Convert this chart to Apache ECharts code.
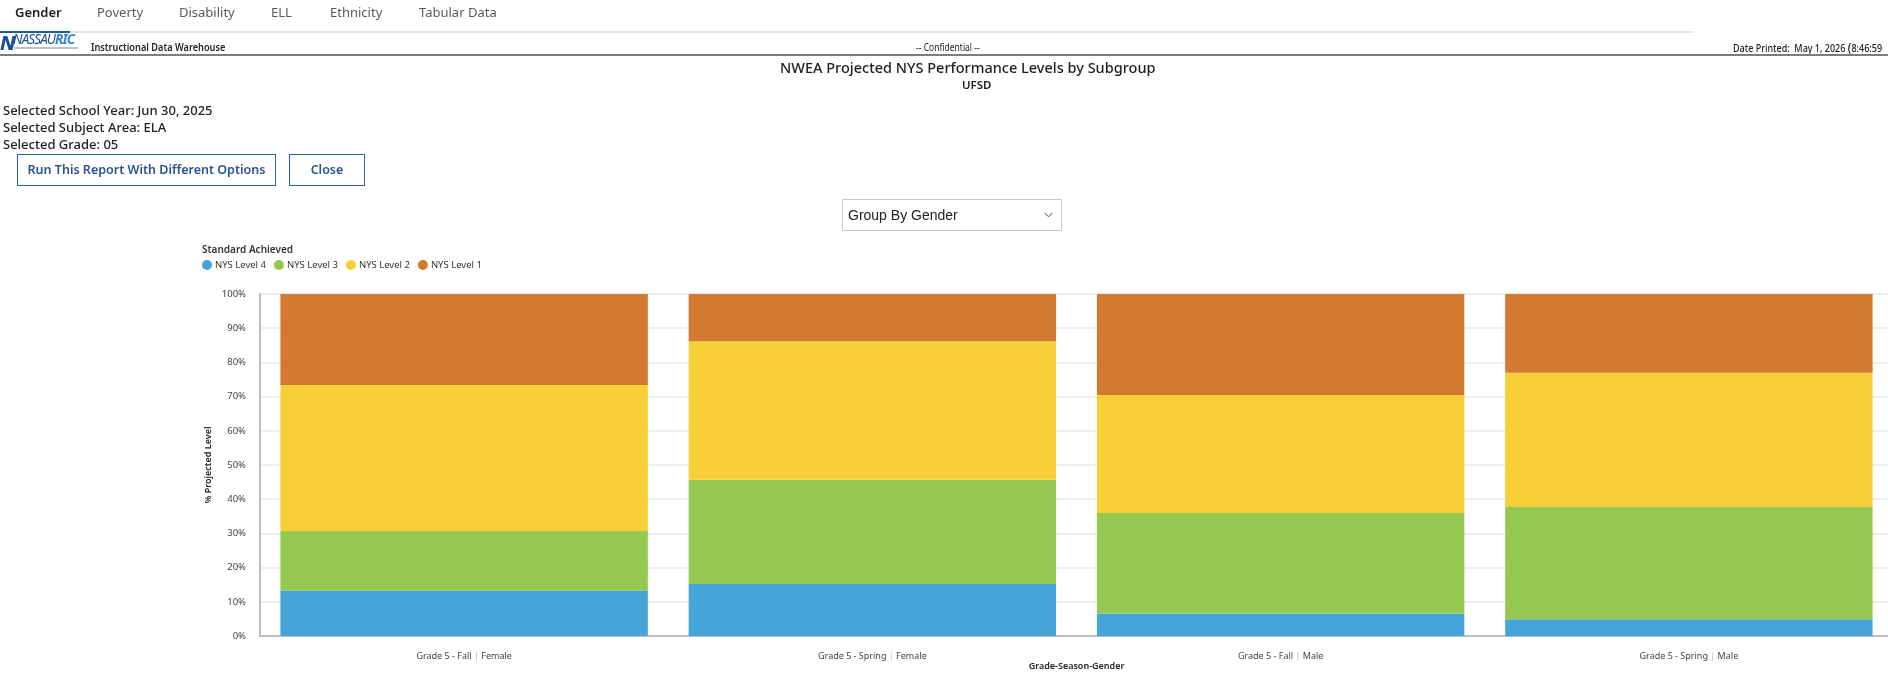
<!DOCTYPE html>
<html>
<head>
<meta charset="utf-8">
<title>NWEA Projected NYS Performance Levels by Subgroup</title>
<script src="https://cdn.jsdelivr.net/npm/echarts@6/dist/echarts.min.js"></script>
<style>
  html, body { margin: 0; padding: 0; background: #fff; }
  body { width: 1888px; height: 679px; overflow: hidden; position: relative;
         font-family: "Noto Sans", Roboto, sans-serif; color: #222; }
  #chart { position: absolute; left: 0; top: 0; width: 1888px; height: 679px; }
  .abs { position: absolute; white-space: nowrap; z-index: 2; }
  .tab { position: absolute; top: 3px; font-size: 13px; color: #5a5a5a; }
  .tab.on { color: #1e1e1e; font-weight: 600; }
  .tabline { position: absolute; top: 31px; height: 2px; background: #e6e6e6; }
  .sel { left: 3px; font-size: 13px; font-weight: 500; color: #222; }
  .btn { top: 154px; height: 30px; border: 1px solid #2d5f9e; color: #2a5490;
         font-size: 12.5px; font-weight: 600; text-align: center; line-height: 30px; }
</style>
</head>
<body>
<div id="chart"></div>

<!-- tabs -->
<div class="tab on" style="left:15px">Gender</div>
<div class="tab" style="left:97px">Poverty</div>
<div class="tab" style="left:179px">Disability</div>
<div class="tab" style="left:271px">ELL</div>
<div class="tab" style="left:330px">Ethnicity</div>
<div class="tab" style="left:419px">Tabular Data</div>
<div class="tabline" style="left:0;width:1694px"></div>
<div class="tabline" style="left:0;width:70px;background:#1f5aa0"></div>

<!-- report header -->
<div class="abs" style="left:0;top:29px;font-size:20px;font-weight:800;color:#1f4f8f;font-style:italic;letter-spacing:-1px">N</div>
<div class="abs" style="left:13px;top:30px;font-size:13.5px;color:#1f4f8f;font-style:italic;letter-spacing:-0.9px">NASSAU<b style="color:#2f86c8">RIC</b></div>
<div class="abs" style="left:14px;top:47px;width:64px;height:2px;background:#b9c3d2"></div>
<div class="abs" style="left:91px;top:40px;font-size:10px;font-weight:600;color:#222;transform:scaleX(0.92);transform-origin:left">Instructional Data Warehouse</div>
<div class="abs" style="left:916px;top:40px;font-size:10px;color:#222;transform:scaleX(0.85);transform-origin:left">-- Confidential --</div>
<div class="abs" style="left:1733px;top:38px;font-size:10px;font-weight:500;color:#222;transform:scaleX(0.9);transform-origin:left">Date Printed:&nbsp; May 1, 2026 <span style="font-size:13px">(</span>8:46:59</div>
<div class="abs" style="left:0;top:54px;width:1888px;height:2px;background:#7d7d7d"></div>

<div class="abs" style="left:780px;top:57px;font-size:14.5px;font-weight:500;color:#1e1e1e">NWEA Projected NYS Performance Levels by Subgroup</div>
<div class="abs" style="left:962px;top:77px;font-size:11.5px;font-weight:600;color:#1e1e1e">UFSD</div>

<div class="abs sel" style="top:101px">Selected School Year: Jun 30, 2025</div>
<div class="abs sel" style="top:118px">Selected Subject Area: ELA</div>
<div class="abs sel" style="top:135px">Selected Grade: 05</div>

<div class="abs btn" style="left:17px;width:257px">Run This Report With Different Options</div>
<div class="abs btn" style="left:289px;width:74px">Close</div>

<div class="abs" style="left:842px;top:199px;width:218px;height:30px;border:1px solid #c8c8c8;font-family:'Liberation Sans',Arial,sans-serif;font-size:14px;line-height:30px;color:#222">
  <span style="margin-left:5px">Group By Gender</span>
  <svg style="position:absolute;right:8px;top:12px" width="9" height="6" viewBox="0 0 9 6"><path d="M0.5 0.8 L4.5 4.8 L8.5 0.8" fill="none" stroke="#444" stroke-width="1"/></svg>
</div>

<script>
  // chart data (percent of students)
  const categories = [
    "Grade 5 - Fall | Female",
    "Grade 5 - Spring | Female",
    "Grade 5 - Fall | Male",
    "Grade 5 - Spring | Male"
  ];
  const level4 = [13.3, 15.2, 6.5, 4.9];
  const level3 = [17.4, 30.5, 29.5, 32.8];
  const level2 = [42.7, 40.5, 34.5, 39.3];
  const level1 = [26.6, 13.8, 29.5, 23.0];
  const levelNames = ["NYS Level 4", "NYS Level 3", "NYS Level 2", "NYS Level 1"];
  const yTicks = [0, 10, 20, 30, 40, 50, 60, 70, 80, 90, 100];

  const COLORS = ["#45a5d9", "#95c852", "#f7d038", "#d37a31"];
  const FONT = "Noto Sans";

  const chart = echarts.init(document.getElementById("chart"), null, { renderer: "canvas" });

  function barSeries(name, data, i) {
    return {
      name: name,
      type: "bar",
      stack: "total",
      data: data,
      barCategoryGap: "10%",
      itemStyle: { color: COLORS[i] },
      emphasis: { disabled: true }
    };
  }

  chart.setOption({
    animation: false,
    color: COLORS,
    textStyle: { fontFamily: FONT },
    title: {
      text: "Standard Achieved",
      left: 202,
      top: 245,
      padding: 0,
      textStyle: { fontSize: 10, fontWeight: 600, color: "#333", fontFamily: FONT }
    },
    legend: {
      data: levelNames,
      left: 202,
      top: 260,
      padding: 0,
      icon: "circle",
      itemWidth: 10,
      itemHeight: 10,
      itemGap: 8,
      textStyle: { fontSize: 9.5, color: "#333", width: 52, padding: [0, 0, 0, -2] }
    },
    // grid runs slightly past the right edge, as in the reference (last slot is clipped)
    grid: { left: 260, top: 294, width: 1633, height: 342, containLabel: false, outerBoundsMode: "none" },
    xAxis: {
      type: "category",
      data: categories,
      name: "Grade-Season-Gender",
      nameLocation: "middle",
      nameGap: 26,
      nameMoveOverlap: false,
      nameTextStyle: { fontSize: 9, fontWeight: 600, color: "#222" },
      axisLine: { show: true, lineStyle: { color: "#bdbdbd", width: 2 } },
      axisTick: { show: false },
      axisLabel: {
        margin: 16,
        fontSize: 9,
        color: "#444",
        formatter: function (v) {
          const parts = v.split(" | ");
          return "{a|" + parts[0] + " }{p||}{a| " + parts[1] + "}";
        },
        rich: {
          a: { fontSize: 9, color: "#444", fontFamily: FONT },
          p: { fontSize: 9, color: "#f0b48c", fontFamily: FONT }
        }
      }
    },
    yAxis: {
      type: "value",
      min: yTicks[0],
      max: yTicks[yTicks.length - 1],
      interval: yTicks[1] - yTicks[0],
      name: "% Projected Level",
      nameLocation: "middle",
      nameRotate: 90,
      nameGap: 47,
      nameMoveOverlap: false,
      nameTextStyle: { fontSize: 9, fontWeight: 600, color: "#222" },
      axisLine: { show: true, lineStyle: { color: "#bdbdbd", width: 2 } },
      axisTick: { show: false },
      axisLabel: { margin: 14, fontSize: 9.5, color: "#444", formatter: "{value}%" },
      splitLine: { show: true, lineStyle: { color: "#e8e8e8", width: 1.5 } }
    },
    series: [
      barSeries(levelNames[0], level4, 0),
      barSeries(levelNames[1], level3, 1),
      barSeries(levelNames[2], level2, 2),
      barSeries(levelNames[3], level1, 3)
    ]
  });
</script>
</body>
</html>
